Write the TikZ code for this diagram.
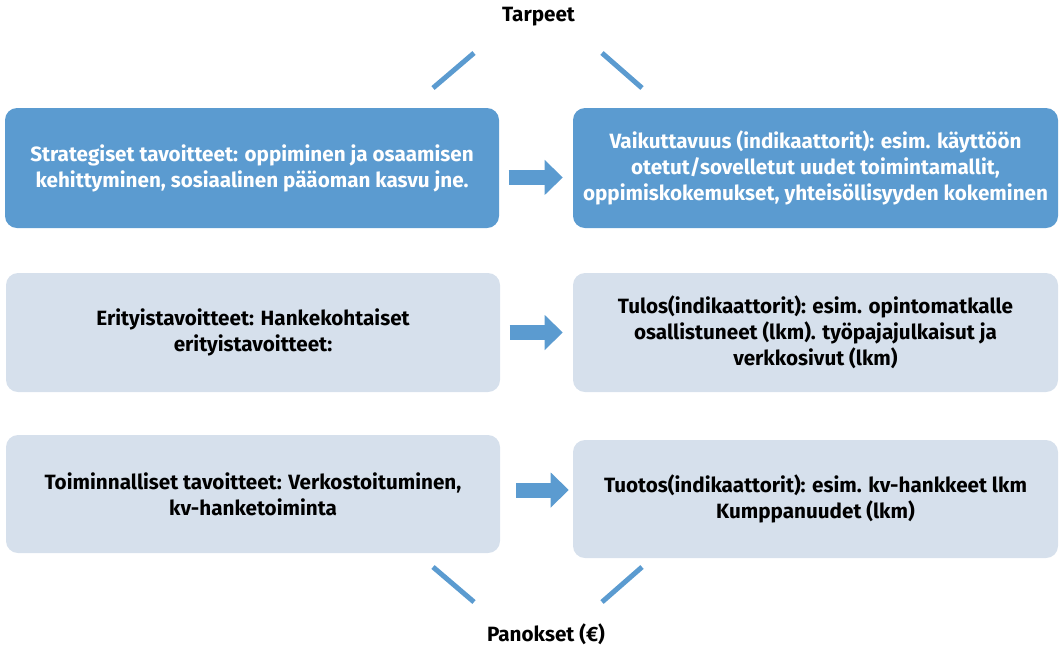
\documentclass[tikz,border=0pt]{standalone}
\usepackage{fontspec}
\setmainfont{Fira Sans}
\usepackage{tikz}
\usetikzlibrary{arrows.meta, positioning}
\definecolor{vblue}{HTML}{5B9BD0}
\definecolor{vlight}{HTML}{D6E0EC}

\tikzset{
    goalbox/.style={rounded corners=9pt, align=center, font=\fontsize{15.5}{19.5}\selectfont\bfseries, inner sep=0pt},
    darkbox/.style={goalbox, fill=vblue, text=white},
    lightbox/.style={goalbox, fill=vlight, text=black},
    bigarrow/.style={-{Triangle[length=13.5pt, width=26.25pt, line width=0pt]}, line width=11.25pt, vblue},
    deco/.style={line width=3.75pt, vblue},
}

\begin{document}
\begin{tikzpicture}[x=0.75pt, y=-0.75pt]
    \useasboundingbox (0,0) rectangle (1059,647);

    % left column: goals
    \node[darkbox, minimum width=370.5pt, minimum height=90pt] (strat) at (252,168)
        {Strategiset tavoitteet: oppiminen ja osaamisen\\kehittyminen, sosiaalinen pääoman kasvu jne.};
    \node[lightbox, minimum width=370.5pt, minimum height=89.25pt] (erit) at (253,332.5)
        {Erityistavoitteet: Hankekohtaiset\\erityistavoitteet:};
    \node[lightbox, minimum width=370.5pt, minimum height=88.5pt] (toim) at (253,494)
        {Toiminnalliset tavoitteet: Verkostoituminen,\\kv-hanketoiminta};

    % right column: indicators
    \node[darkbox, minimum width=363.75pt, minimum height=90pt] (vaik) at (815.5,168)
        {Vaikuttavuus (indikaattorit): esim. käyttöön\\otetut/sovelletut uudet toimintamallit,\\oppimiskokemukset, yhteisöllisyyden kokeminen};
    \node[lightbox, minimum width=363.75pt, minimum height=89.25pt] (tulos) at (815.5,332.5)
        {Tulos(indikaattorit): esim. opintomatkalle\\osallistuneet (lkm). työpajajulkaisut ja\\verkkosivut (lkm)};
    \node[lightbox, minimum width=363.75pt, minimum height=88.5pt] (tuotos) at (815.5,499)
        {Tuotos(indikaattorit): esim. kv-hankkeet lkm\\Kumppanuudet (lkm)};

    \draw[bigarrow, shorten <=7pt, shorten >=7.5pt] ([yshift=-7.1pt]strat.east) -- ([yshift=-7.1pt]strat.east -| vaik.west);
    \draw[bigarrow, shorten <=7pt, shorten >=7.5pt] (erit.east) -- (erit.east -| tulos.west);
    \draw[bigarrow, shorten <=12pt, shorten >=3pt] ([yshift=3pt]toim.east) -- ([yshift=3pt]toim.east -| tuotos.west);

    % top and bottom labels
    \node[font=\fontsize{15.5}{18}\selectfont\bfseries] (tarpeet) at (538.5,17) {Tarpeet};
    \node[font=\fontsize{15.5}{18}\selectfont\bfseries] (panokset) at (546,634) {Panokset (€)};

    \coordinate (tl1) at (433,88);  \coordinate (tl2) at (474,53);
    \coordinate (tr1) at (602,53);  \coordinate (tr2) at (642,88);
    \coordinate (bl1) at (433,567); \coordinate (bl2) at (474,602);
    \coordinate (br1) at (602,602); \coordinate (br2) at (642,567);
    \draw[deco] (tl1) -- (tl2);
    \draw[deco] (tr1) -- (tr2);
    \draw[deco] (bl1) -- (bl2);
    \draw[deco] (br1) -- (br2);
\end{tikzpicture}
\end{document}
